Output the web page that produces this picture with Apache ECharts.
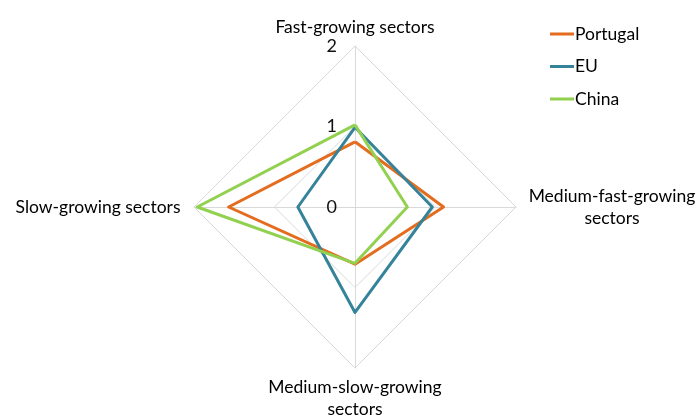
<!DOCTYPE html>
<html>
<head>
<meta charset="utf-8">
<script src="https://cdn.jsdelivr.net/npm/echarts@6/dist/echarts.min.js"></script>
<style>
  html, body { margin: 0; padding: 0; background: #fff; }
  #chart { width: 700px; height: 416px; }
</style>
</head>
<body>
<div id="chart"></div>
<script>
// sectors, in the order echarts walks them (top, then counter-clockwise)
const sectors = [
  'Fast-growing sectors',
  'Slow-growing sectors',
  'Medium-slow-growing\nsectors',
  'Medium-fast-growing\nsectors',
];
const portugal = [0.81, 1.57, 0.71, 1.1];
const eu = [0.99, 0.71, 1.31, 0.96];
const china = [1.02, 1.96, 0.7, 0.65];
const seriesNames = ['Portugal', 'EU', 'China'];
const colors = ['#E36C1E', '#35839A', '#92D050'];

const FONT = 'Lato';

const chart = echarts.init(document.getElementById('chart'));

const option = {
  animation: false,
  color: colors,
  textStyle: { fontFamily: FONT },
  legend: {
    orient: 'vertical',
    left: 545,
    top: 20,
    itemWidth: 24,
    itemHeight: 3,
    itemGap: 14.5,
    icon: 'rect',
    textStyle: { fontFamily: FONT, fontSize: 17.5, color: '#000', padding: [0, 0, 0, -4] },
    data: seriesNames,
  },
  radar: {
    center: [355, 207],
    radius: 161,
    startAngle: 90,
    splitNumber: 2,
    shape: 'polygon',
    nameGap: 8,
    axisName: {
      color: '#000',
      fontSize: 17.5,
      fontFamily: FONT,
      formatter: (name) =>
        name.split('\n').map((l) => `{t|${l}}`).join('\n'),
      rich: {
        t: { width: 176, align: 'center', fontSize: 17.5, fontFamily: FONT, color: '#000', lineHeight: 22 },
      },
    },
    axisLine: { lineStyle: { color: '#d9d9d9', width: 1 } },
    splitLine: { lineStyle: { color: '#d9d9d9', width: 1 } },
    splitArea: { show: false },
    axisTick: { show: false },
    axisLabel: { show: false },
    indicator: sectors.map((name, i) => {
      const ind = { name, min: 0, max: 2 };
      if (i === 0) {
        ind.axisLabel = {
          show: true,
          fontSize: 18,
          color: '#111',
          fontFamily: FONT,
          margin: 18,
        };
      }
      return ind;
    }),
  },
  series: [
    {
      type: 'radar',
      symbol: 'none',
      lineStyle: { width: 3 },
      data: [
        { name: 'Portugal', value: portugal },
        { name: 'EU', value: eu },
        { name: 'China', value: china },
      ],
    },
  ],
};

chart.setOption(option);
</script>
</body>
</html>
